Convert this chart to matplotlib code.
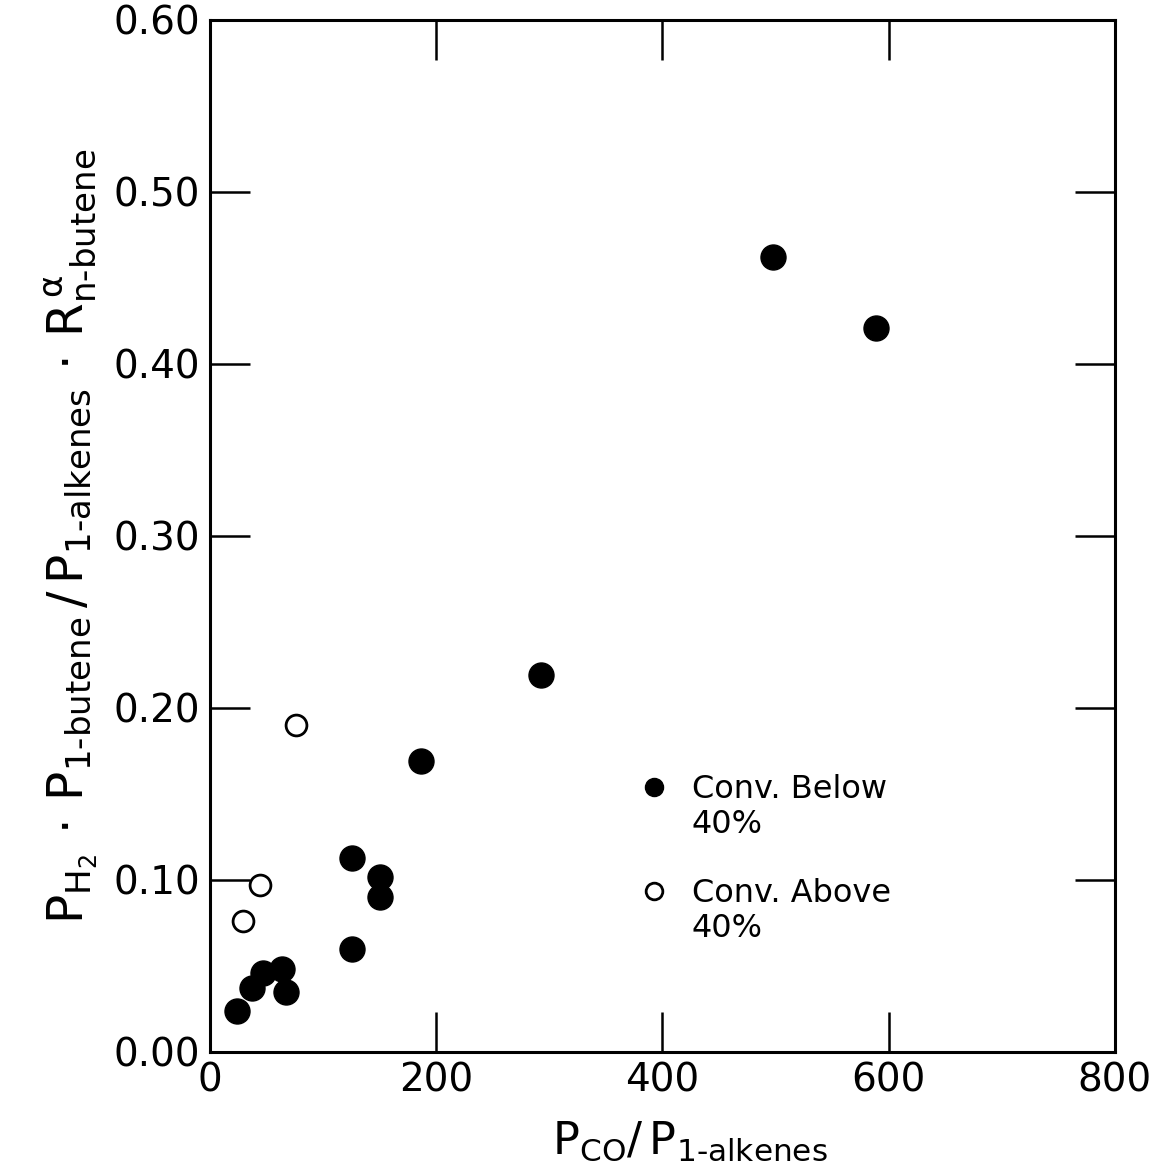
import matplotlib
matplotlib.use("Agg")
import matplotlib.pyplot as plt
from matplotlib.lines import Line2D

# conversion below 40 % (filled) / above 40 % (open)
x_below = [24, 37, 47, 64, 67, 126, 126, 150, 150, 187, 293, 498, 589]
y_below = [0.024, 0.037, 0.046, 0.048, 0.035, 0.113, 0.060, 0.102, 0.090, 0.169, 0.219, 0.462, 0.421]
x_above = [29, 44, 76]
y_above = [0.076, 0.097, 0.190]

x_ticks = [0, 200, 400, 600, 800]
y_ticks = [0.0, 0.1, 0.2, 0.3, 0.4, 0.5, 0.6]
y_ticklabels = ["0.00", "0.10", "0.20", "0.30", "0.40", "0.50", "0.60"]

plt.rcParams["mathtext.fontset"] = "dejavusans"
plt.rcParams["mathtext.default"] = "regular"
plt.rcParams["font.family"] = "DejaVu Sans"

fig = plt.figure(figsize=(11.53, 11.65), dpi=100)
ax = fig.add_axes([0.182, 0.097, 0.785, 0.886])

ax.plot(x_below, y_below, "o", color="black", markersize=18, linestyle="none")
ax.plot(x_above, y_above, "o", markerfacecolor="white", markeredgecolor="black",
        markeredgewidth=2, markersize=15, linestyle="none")

ax.set_xlim(0, 800)
ax.set_ylim(0, 0.6)
ax.set_xticks(x_ticks)
ax.set_yticks(y_ticks)
ax.set_yticklabels(y_ticklabels)
ax.tick_params(direction="in", length=29, width=1.8, labelsize=28,
               top=True, right=True, pad=7)
for s in ax.spines.values():
    s.set_linewidth(2.2)

ax.set_xlabel("$P_{CO}/\\,P_{1‐alkenes}$", fontsize=32, labelpad=6)
ax.xaxis.set_label_coords(0.53, -0.065)
ax.set_ylabel("$P_{H_2}\\,\\cdot\\,P_{1‐butene}\\,/\\,P_{1‐alkenes}\\,\\cdot\\,R^{\\,\\alpha}_{n‐butene}$",
              fontsize=35, labelpad=10)

# legend
handles = [
    Line2D([], [], marker="o", color="black", linestyle="none", markersize=13),
    Line2D([], [], linestyle="none"),
    Line2D([], [], linestyle="none"),
    Line2D([], [], marker="o", markerfacecolor="white", markeredgecolor="black",
           markeredgewidth=2, linestyle="none", markersize=12),
    Line2D([], [], linestyle="none"),
]
labels = ["Conv. Below", "40%", "", "Conv. Above", "40%"]
ax.legend(handles, labels, loc="upper left", bbox_to_anchor=(0.455, 0.285),
          frameon=False, fontsize=23, labelspacing=0.12, handlelength=1.0,
          handletextpad=0.7, borderpad=0)

fig.savefig("out.png", dpi=100)
